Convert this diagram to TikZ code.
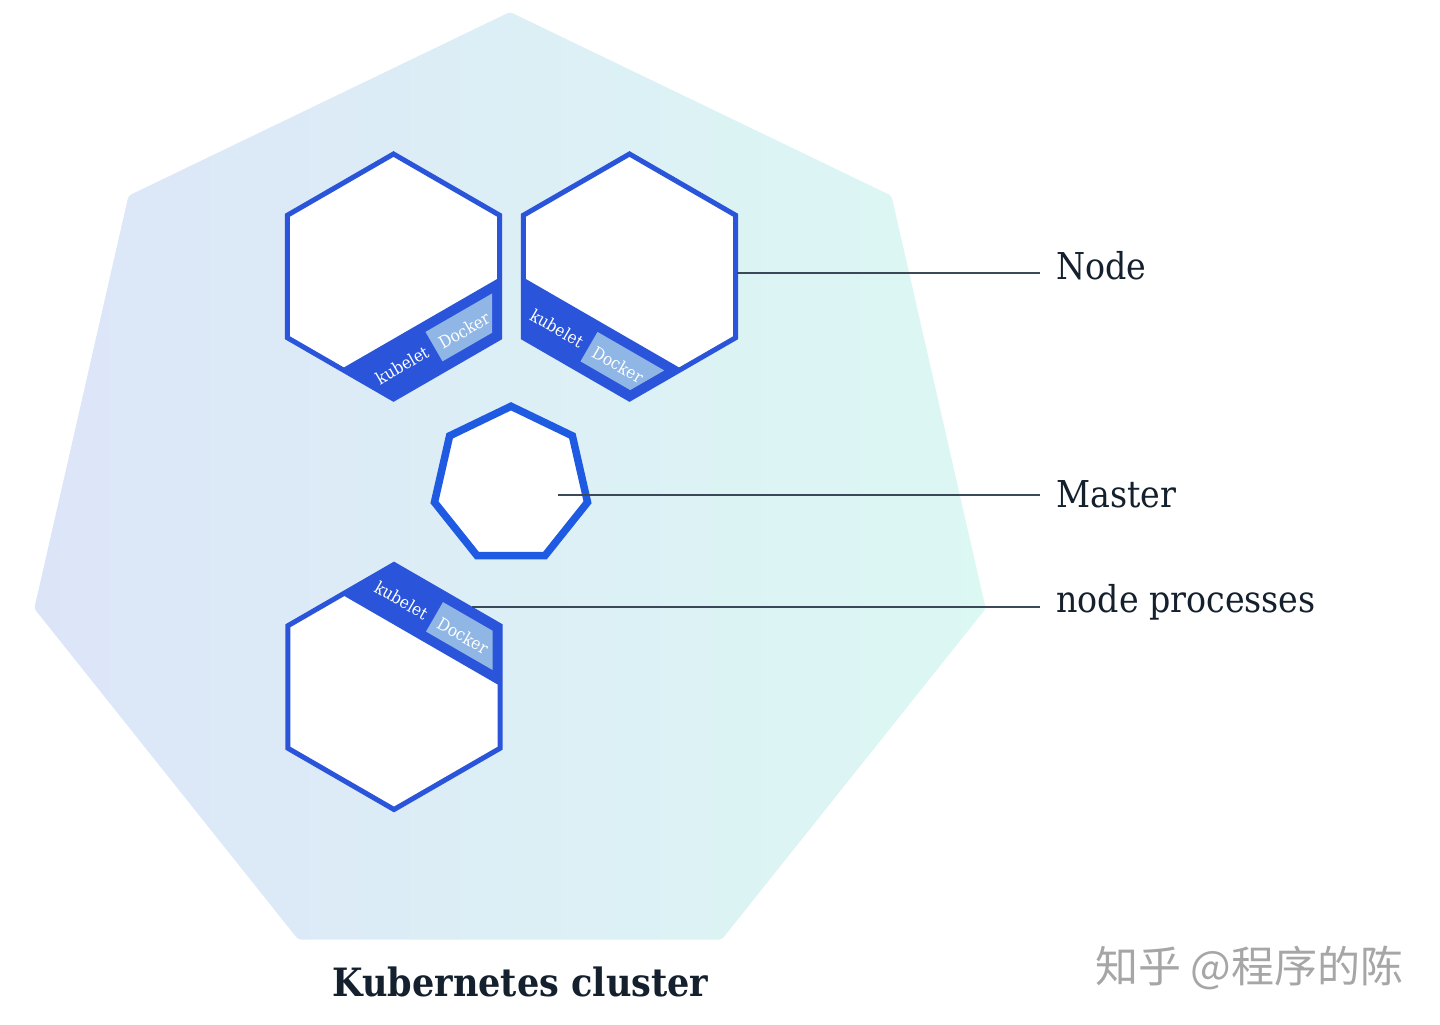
\documentclass[tikz,border=0pt]{standalone}
\usepackage{fontspec}
\setmainfont{DejaVu Serif Condensed}
\newfontfamily\cjk{Noto Sans CJK SC}
\usetikzlibrary{calc}
\definecolor{k8blue}{HTML}{2A55DA}
\definecolor{mblue}{HTML}{1E5BE2}
\definecolor{dockbox}{HTML}{8FB6E4}
\definecolor{bgleft}{HTML}{DCE5F8}
\definecolor{bgright}{HTML}{DCF8F3}
\definecolor{inkc}{HTML}{14202E}
\definecolor{leader}{HTML}{3A4858}
\tikzset{
  hexout/.style={draw=k8blue, line width=5pt, line join=miter},
  leaderline/.style={draw=leader, line width=1.3pt},
  lbl/.style={anchor=base west, inner xsep=16pt, inner ysep=0pt, text=inkc, font=\fontsize{37}{40}\selectfont},
  smalltxt/.style={text=white, font=\fontsize{17}{18}\selectfont, inner sep=0pt, transform shape},
}
\begin{document}
\begin{tikzpicture}[x=1pt,y=1pt]
\useasboundingbox (0,0) rectangle (1440,1025);
% background heptagon
\shade[left color=bgleft, right color=bgright, rounded corners=3pt]
  (510,525) ++(90:488) -- ($(510,525)+(90+360/7:488)$) -- ($(510,525)+(90+720/7:488)$)
  -- ($(510,525)+(90+1080/7:488)$) -- ($(510,525)+(90+1440/7:488)$)
  -- ($(510,525)+(90+1800/7:488)$) -- ($(510,525)+(90+2160/7:488)$) -- cycle;

% Node 1 (band at lower right)
\begin{scope}[shift={(393.5,748.5)}, rotate=30]
  \path[fill=white] (0:122.5) -- (60:122.5) -- (120:122.5) -- (180:122.5) -- (240:122.5) -- (300:122.5) -- cycle;
  \begin{scope}
    \clip (0:122.5) -- (60:122.5) -- (120:122.5) -- (180:122.5) -- (240:122.5) -- (300:122.5) -- cycle;
    \fill[k8blue] (-130,-130) rectangle (130,-54);
  \end{scope}
  \begin{scope}
    \clip (0:114) -- (60:114) -- (120:114) -- (180:114) -- (240:114) -- (300:114) -- cycle;
    \fill[dockbox] (0,-98) rectangle (130,-64);
  \end{scope}
  \node[smalltxt] (k1) at (-37,-81) {kubelet};
  \node[smalltxt] (d1) at (34,-82) {Docker};
  \path[hexout] (0:122.5) -- (60:122.5) -- (120:122.5) -- (180:122.5) -- (240:122.5) -- (300:122.5) -- cycle;
\end{scope}

% Node 2 (band at lower left)
\begin{scope}[shift={(629.5,748.5)}, rotate=-30]
  \path[fill=white] (0:122.5) -- (60:122.5) -- (120:122.5) -- (180:122.5) -- (240:122.5) -- (300:122.5) -- cycle;
  \begin{scope}
    \clip (0:122.5) -- (60:122.5) -- (120:122.5) -- (180:122.5) -- (240:122.5) -- (300:122.5) -- cycle;
    \fill[k8blue] (-130,-130) rectangle (130,-54);
  \end{scope}
  \begin{scope}
    \clip (0:114) -- (60:114) -- (120:114) -- (180:114) -- (240:114) -- (300:114) -- cycle;
    \fill[dockbox] (0,-98) rectangle (130,-64);
  \end{scope}
  \node[smalltxt] (k2) at (-37,-81) {kubelet};
  \node[smalltxt] (d2) at (34,-82) {Docker};
  \path[hexout] (0:122.5) -- (60:122.5) -- (120:122.5) -- (180:122.5) -- (240:122.5) -- (300:122.5) -- cycle;
\end{scope}

% Node 3 (band at upper right)
\begin{scope}[shift={(394,338)}, rotate=-30]
  \path[fill=white] (0:122.5) -- (60:122.5) -- (120:122.5) -- (180:122.5) -- (240:122.5) -- (300:122.5) -- cycle;
  \begin{scope}
    \clip (0:122.5) -- (60:122.5) -- (120:122.5) -- (180:122.5) -- (240:122.5) -- (300:122.5) -- cycle;
    \fill[k8blue] (-130,54) rectangle (130,130);
  \end{scope}
  \begin{scope}
    \clip (0:114) -- (60:114) -- (120:114) -- (180:114) -- (240:114) -- (300:114) -- cycle;
    \fill[dockbox] (0,64) rectangle (130,98);
  \end{scope}
  \node[smalltxt] (k3) at (-37,79) {kubelet};
  \node[smalltxt] (d3) at (34,79) {Docker};
  \path[hexout] (0:122.5) -- (60:122.5) -- (120:122.5) -- (180:122.5) -- (240:122.5) -- (300:122.5) -- cycle;
\end{scope}

% Master heptagon
\path[fill=white, draw=mblue, line width=7.5pt, line join=miter]
  (511,540.2) ++(90:78.5) -- ($(511,540.2)+(90+360/7:78.5)$) -- ($(511,540.2)+(90+720/7:78.5)$)
  -- ($(511,540.2)+(90+1080/7:78.5)$) -- ($(511,540.2)+(90+1440/7:78.5)$)
  -- ($(511,540.2)+(90+1800/7:78.5)$) -- ($(511,540.2)+(90+2160/7:78.5)$) -- cycle;

% labels
\node[lbl] (lnode) at (1040,745) {Node};
\node[lbl] (lmaster) at (1040,517) {Master};
\node[lbl] (lproc) at (1040,412) {node processes};

% connector start points
\coordinate (n2edge) at (737,752);
\coordinate (mcenter) at (558,530);
\coordinate (n3edge) at (472,418);

\draw[leaderline] (n2edge) -- (n2edge -| lnode.west);
\draw[leaderline] (mcenter) -- (mcenter -| lmaster.west);
\draw[leaderline] (n3edge) -- (n3edge -| lproc.west);

% title
\node[anchor=base, inner sep=0pt, text=inkc, font=\bfseries\fontsize{39}{42}\selectfont] (title) at (520.5,28) {Kubernetes cluster};

% watermark
\node[anchor=base west, inner sep=0pt, text=black!35, font=\cjk\fontsize{43}{46}\selectfont] (wm) at (1095,42) {知乎 @程序的陈};
\end{tikzpicture}
\end{document}
